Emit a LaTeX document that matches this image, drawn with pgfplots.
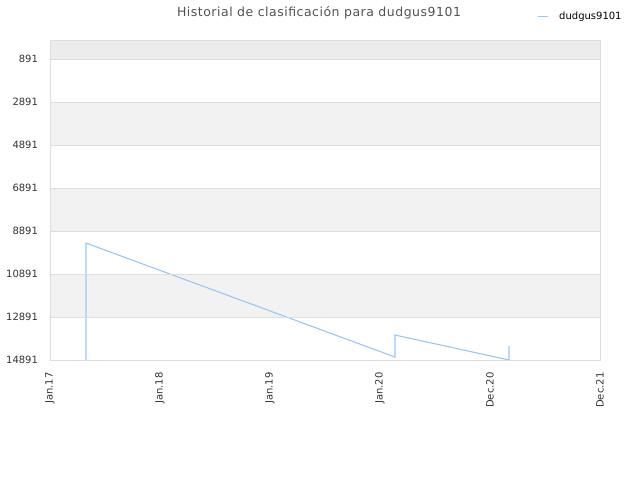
\documentclass[border=0pt]{standalone}
\usepackage{pgfplots}
\pgfplotsset{compat=1.18}
\usetikzlibrary{calc}
\usepackage{fontspec}
\setmainfont{DejaVu Sans}
\newfontfamily\titlefont[LetterSpace=4]{DejaVu Sans}
\definecolor{serie}{HTML}{99C7F4}
\definecolor{bandA}{HTML}{F2F2F2}
\definecolor{bandTop}{HTML}{ECECEC}
\definecolor{gridc}{HTML}{DDDDDD}
\definecolor{txt}{HTML}{333333}
\begin{document}
\begin{tikzpicture}[x=1pt,y=1pt]
\begin{axis}[
    width=550pt, height=320pt, scale only axis,
    xmin=0, xmax=5,
    ymin=0, ymax=14891,
    y dir=reverse,
    axis on top,
    xtick={0,1,2,3,4,5},
    xticklabels={Jan.17,Jan.18,Jan.19,Jan.20,Dec.20,Dec.21},
    ytick={891,2891,4891,6891,8891,10891,12891,14891},
    scaled y ticks=false,
    /pgf/number format/assume math mode=true,
    yticklabel={\pgfmathprintnumber[fixed,precision=0,1000 sep={}]{\tick}},
    tick label style={font=\fontsize{10}{12}\selectfont, text=txt},
    x tick label style={rotate=90, anchor=east},
    xticklabel shift=9pt,
    yticklabel shift=8.5pt,
    major tick length=0pt,
    axis line style={draw=gridc, line width=0.8pt},
    ymajorgrids, grid style={draw=gridc, line width=0.6pt},
    title={Historial de clasificación para dudgus9101},
    title style={font=\titlefont\fontsize{12.5}{14}\selectfont, text=txt!85,
        anchor=center, yshift=21pt, xshift=-6pt},
    legend style={draw=none, fill=none, at={(0.8855,1.075)}, anchor=west,
        font=\fontsize{10}{12}\selectfont, inner sep=0pt, /tikz/column sep=9pt},
    legend cell align=left,
    legend image code/.code={\draw[serie, line width=1pt] (0pt,0pt) -- (10pt,0pt);},
]
\coordinate (bl) at (axis cs:0,14891);
\fill[bandTop] (axis cs:0,0) rectangle (axis cs:5,891);
\fill[bandA] (axis cs:0,2891) rectangle (axis cs:5,4891);
\fill[bandA] (axis cs:0,6891) rectangle (axis cs:5,8891);
\fill[bandA] (axis cs:0,10891) rectangle (axis cs:5,12891);
\addplot[serie, line width=1.1pt] coordinates {
    (0.327,14891)
    (0.327,9449)
    (3.136,14751)
    (3.136,13728)
    (4.173,14891)
    (4.173,14240)
};
\addlegendentry{dudgus9101}
\end{axis}
\useasboundingbox ($(bl)+(-50,-120)$) rectangle ++(640,480);
\end{tikzpicture}
\end{document}
